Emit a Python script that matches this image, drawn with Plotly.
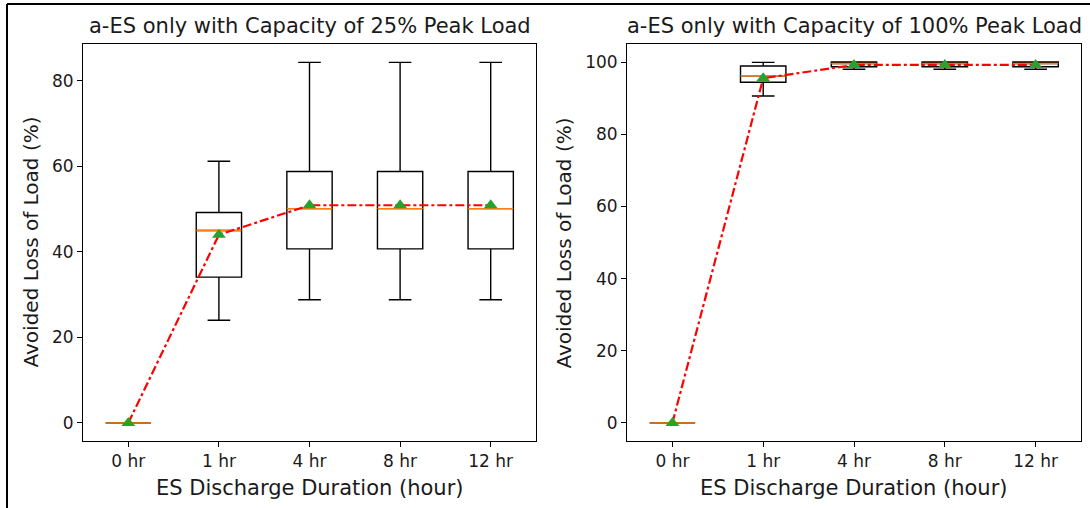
import plotly.graph_objects as go

categories = ["0 hr", "1 hr", "4 hr", "8 hr", "12 hr"]
positions = [1, 2, 3, 4, 5]

# Left panel: 25% peak load capacity
left_low = [0, 24.0, 28.8, 28.8, 28.8]
left_q1 = [0, 34.1, 40.7, 40.7, 40.7]
left_med = [0, 45.0, 50.1, 50.1, 50.1]
left_q3 = [0, 49.2, 58.8, 58.8, 58.8]
left_high = [0, 61.2, 84.3, 84.3, 84.3]
left_mean = [0, 44.0, 50.9, 50.9, 50.9]

# Right panel: 100% peak load capacity
right_low = [0, 90.6, 98.0, 98.0, 98.0]
right_q1 = [0, 94.4, 98.7, 98.7, 98.7]
right_med = [0, 96.2, 99.6, 99.6, 99.6]
right_q3 = [0, 98.9, 100.0, 100.0, 100.0]
right_high = [0, 99.9, 100.0, 100.0, 100.0]
right_mean = [0, 95.5, 99.2, 99.2, 99.2]

titles = ["a-ES only with Capacity of 25% Peak Load", "a-ES only with Capacity of 100% Peak Load"]
xlabel = "ES Discharge Duration (hour)"
ylabel = "Avoided Loss of Load (%)"

W, H = 1090, 508
FONT = "DejaVu Sans"
fig = go.Figure()

panels = [
    (left_low, left_q1, left_med, left_q3, left_high, left_mean, "x", "y"),
    (right_low, right_q1, right_med, right_q3, right_high, right_mean, "x2", "y2"),
]
BW = 0.5
for lo, q1, med, q3, hi, mn, xa, ya in panels:
    fig.add_trace(go.Box(
        x=positions, lowerfence=lo, q1=q1, median=med, q3=q3, upperfence=hi,
        xaxis=xa, yaxis=ya, width=BW, whiskerwidth=0.5,
        line=dict(color="black", width=1.4), fillcolor="white",
        boxpoints=False, showlegend=False, hoverinfo="skip",
    ))
    mx, my = [], []
    for p, m in zip(positions, med):
        mx += [p - BW / 2, p + BW / 2, None]
        my += [m, m, None]
    fig.add_trace(go.Scatter(x=mx, y=my, mode="lines", xaxis=xa, yaxis=ya,
                             line=dict(color="#ff7f0e", width=1.4), showlegend=False,
                             hoverinfo="skip"))
    fig.add_trace(go.Scatter(x=positions, y=mn, mode="lines", xaxis=xa, yaxis=ya,
                             line=dict(color="red", width=2.2, dash="dashdot"),
                             showlegend=False))
    fig.add_trace(go.Scatter(x=positions, y=mn, mode="markers", xaxis=xa, yaxis=ya,
                             marker=dict(symbol="triangle-up", color="#2ca02c", size=12),
                             showlegend=False))

ybot, ytop = 441, 44
ydom = [(H - ybot) / H, (H - ytop) / H]
panels_px = [(83, 536), (627, 1081)]
axis_common = dict(showline=True, linecolor="black", linewidth=1, mirror=True,
                   ticks="outside", ticklen=5, tickcolor="black", showgrid=False,
                   zeroline=False, automargin=False,
                   tickfont=dict(family=FONT, size=17, color="#1a1a1a"))
fig.update_layout(
    width=W, height=H, margin=dict(l=0, r=0, t=0, b=0, pad=0),
    plot_bgcolor="white", paper_bgcolor="white",
    font=dict(family=FONT, color="#1a1a1a"),
    xaxis=dict(domain=[83 / W, 536 / W], range=[0.5, 5.5], tickvals=positions,
               ticktext=categories, anchor="y", **axis_common),
    yaxis=dict(domain=ydom, range=[-4.22, 88.6], tickvals=[0, 20, 40, 60, 80], anchor="x",
               **axis_common),
    xaxis2=dict(domain=[627 / W, 1081 / W], range=[0.5, 5.5], tickvals=positions,
                ticktext=categories, anchor="y2", **axis_common),
    yaxis2=dict(domain=ydom, range=[-5, 105], tickvals=[0, 20, 40, 60, 80, 100], anchor="x2",
                **axis_common),
)
ylab_x = [30, 563]
for t, (a, b), yx in zip(titles, panels_px, ylab_x):
    fig.add_annotation(text=t, x=(a + b) / 2 / W, y=(H - 26) / H, xref="paper", yref="paper",
                       xanchor="center", yanchor="middle", showarrow=False,
                       font=dict(family=FONT, size=21, color="#1a1a1a"))
    fig.add_annotation(text=xlabel, x=(a + b) / 2 / W, y=(H - 488) / H, xref="paper", yref="paper",
                       xanchor="center", yanchor="middle", showarrow=False,
                       font=dict(family=FONT, size=21, color="#1a1a1a"))
    fig.add_annotation(text=ylabel, x=yx / W, y=(H - (ytop + ybot) / 2) / H, xref="paper", yref="paper",
                       xanchor="center", yanchor="middle", showarrow=False, textangle=-90,
                       font=dict(family=FONT, size=20, color="#1a1a1a"))
# outer frame (left and top edges visible)
fig.add_shape(type="line", xref="paper", yref="paper", x0=7 / W, x1=7 / W, y0=0, y1=(H - 4) / H,
              line=dict(color="black", width=2))
fig.add_shape(type="line", xref="paper", yref="paper", x0=7 / W, x1=1, y0=(H - 4) / H, y1=(H - 4) / H,
              line=dict(color="black", width=2))

fig.write_html("out.html", config={"displayModeBar": False},
               post_script="document.body.style.margin='0';document.body.style.padding='0';")
